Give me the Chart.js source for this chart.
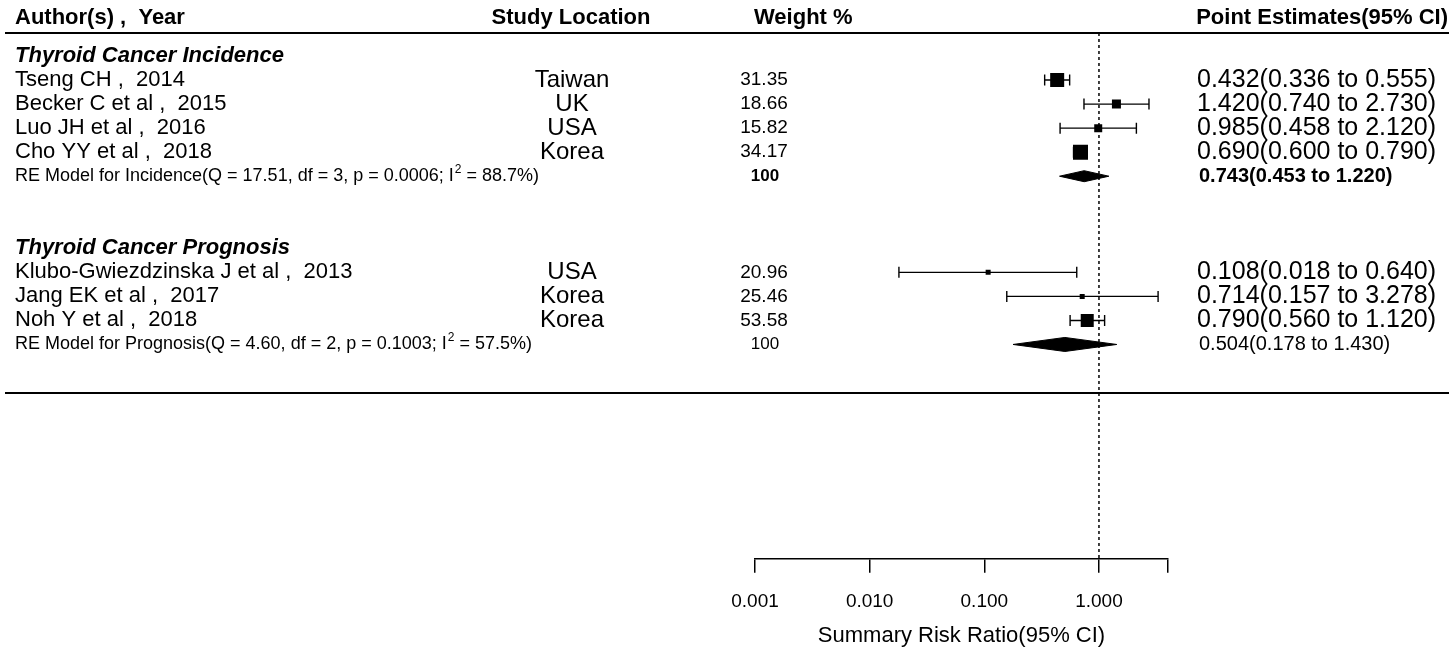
<!DOCTYPE html>
<html><head><meta charset="utf-8">
<script src="https://cdn.jsdelivr.net/npm/chart.js@4.4.1/dist/chart.umd.min.js"></script>
<style>html,body{margin:0;padding:0;background:#fff;}canvas{display:block;}</style>
</head><body>
<canvas id="c" width="1454" height="649"></canvas>
<script>
// ---------- data ----------
const groupTitles = ['Thyroid Cancer Incidence', 'Thyroid Cancer Prognosis'];
const authors = ['Tseng CH ,  2014', 'Becker C et al ,  2015', 'Luo JH et al ,  2016', 'Cho YY et al ,  2018',
                 'Klubo-Gwiezdzinska J et al ,  2013', 'Jang EK et al ,  2017', 'Noh Y et al ,  2018'];
const locations = ['Taiwan', 'UK', 'USA', 'Korea', 'USA', 'Korea', 'Korea'];
const weights = ['31.35', '18.66', '15.82', '34.17', '20.96', '25.46', '53.58'];
const studyGroup = [0, 0, 0, 0, 1, 1, 1];
const estimates = [0.432, 1.420, 0.985, 0.690, 0.108, 0.714, 0.790];
const lower = [0.336, 0.740, 0.458, 0.600, 0.018, 0.157, 0.560];
const upper = [0.555, 2.730, 2.120, 0.790, 0.640, 3.278, 1.120];
const summaryName = ['Incidence', 'Prognosis'];
const summaryQ = ['17.51', '4.60'];
const summaryDf = ['3', '2'];
const summaryP = ['0.0006', '0.1003'];
const summaryI2 = ['88.7', '57.5'];
const summaryWeight = ['100', '100'];
const summaryEst = [0.743, 0.504];
const summaryLo = [0.453, 0.178];
const summaryHi = [1.220, 1.430];
const tickValues = [0.001, 0.01, 0.1, 1];
const tickLabels = ['0.001', '0.010', '0.100', '1.000'];
const axisMax = 4;

// ---------- styles ----------
const FONT = '"Liberation Sans", Arial, sans-serif';
const boxSide = [14, 9, 8, 15, 5, 5, 13];      // marker sizes (px)
const diamondHalf = [5.5, 7];                    // px
const ROW_PX = 24;

// ---------- row layout (computed from group order) ----------
const studyRow = [], groupRow = [], summaryRow = [];
let r = 0;
for (let g = 0; g < groupTitles.length; g++) {
  groupRow.push(r); r++;
  for (let i = 0; i < authors.length; i++) if (studyGroup[i] === g) { studyRow[i] = r; r++; }
  summaryRow.push(r); r += 3;
}
const bottomRuleRow = r - 1;
const yMin = -0.958, yMax = 20.917;

// ---------- datasets ----------
const ds = [];
ds.push({ data: [{x: 1, y: yMin}, {x: 1, y: yMax}], showLine: true, borderColor: '#000',
          borderWidth: 1.5, borderDash: [3, 3], pointRadius: 0 });
for (let i = 0; i < authors.length; i++) {
  ds.push({ data: [{x: lower[i], y: studyRow[i]}, {x: upper[i], y: studyRow[i]}], showLine: true,
            borderColor: '#000', borderWidth: 1.4, pointStyle: 'line', rotation: 90,
            pointRadius: 5.5, pointBorderWidth: 1.4, pointBorderColor: '#000' });
}
ds.push({ data: estimates.map((v, i) => ({x: v, y: studyRow[i]})), pointStyle: 'rect',
          pointRadius: boxSide.map(s => s / Math.SQRT2), backgroundColor: '#000', borderWidth: 0 });
for (let s = 0; s < summaryEst.length; s++) {
  const h = diamondHalf[s] / ROW_PX, y = summaryRow[s];
  ds.push({ data: [{x: summaryLo[s], y}, {x: summaryEst[s], y: y - h}, {x: summaryHi[s], y},
                   {x: summaryEst[s], y: y + h}, {x: summaryLo[s], y}],
            showLine: true, fill: 'shape', backgroundColor: '#000', borderColor: '#000',
            borderWidth: 1, pointRadius: 0, tension: 0 });
}

// ---------- text plugin ----------
function txt(ctx, s, x, y, font, align) {
  ctx.font = font; ctx.textAlign = align || 'left'; ctx.textBaseline = 'middle';
  ctx.fillStyle = '#000'; ctx.fillText(s, x, y);
  return ctx.measureText(s).width;
}
const textPlugin = {
  id: 'forestText',
  afterDraw(chart) {
    const ctx = chart.ctx, ys = chart.scales.y;
    const py = v => ys.getPixelForValue(v);
    ctx.save();
    // header
    const hf = 'bold 22px ' + FONT;
    txt(ctx, 'Author(s) ,  Year', 15, 18, hf);
    txt(ctx, 'Study Location', 571, 18, hf, 'center');
    txt(ctx, 'Weight %', 754, 18, hf);
    txt(ctx, 'Point Estimates(95% CI)', 1448, 18, hf, 'right');
    // rules
    ctx.strokeStyle = '#000'; ctx.lineWidth = 2;
    ctx.beginPath(); ctx.moveTo(5, 33); ctx.lineTo(1449, 33); ctx.stroke();
    const by = Math.round(py(bottomRuleRow));
    ctx.beginPath(); ctx.moveTo(5, by); ctx.lineTo(1449, by); ctx.stroke();
    // groups
    for (let g = 0; g < groupTitles.length; g++)
      txt(ctx, groupTitles[g], 15, py(groupRow[g]), 'italic bold 22px ' + FONT);
    // studies
    for (let i = 0; i < authors.length; i++) {
      const y = py(studyRow[i]);
      txt(ctx, authors[i], 15, y, '22px ' + FONT);
      txt(ctx, locations[i], 572, y, '24px ' + FONT, 'center');
      txt(ctx, weights[i], 764, y, '19px ' + FONT, 'center');
      txt(ctx, estimates[i].toFixed(3) + '(' + lower[i].toFixed(3) + ' to ' + upper[i].toFixed(3) + ')',
          1197, y, '25px ' + FONT);
    }
    // summaries
    for (let s = 0; s < summaryEst.length; s++) {
      const y = py(summaryRow[s]);
      const sf = '18px ' + FONT;
      let x = 15;
      x += txt(ctx, 'RE Model for ' + summaryName[s] + '(Q = ' + summaryQ[s] + ', df = ' + summaryDf[s] +
               ', p = ' + summaryP[s] + '; I', x, y, sf);
      x += txt(ctx, '2', x + 1, y - 7, '12px ' + FONT) + 1;
      txt(ctx, ' = ' + summaryI2[s] + '%)', x, y, sf);
      txt(ctx, summaryWeight[s], 765, y, (s === 0 ? 'bold ' : '') + '17px ' + FONT, 'center');
      txt(ctx, summaryEst[s].toFixed(3) + '(' + summaryLo[s].toFixed(3) + ' to ' + summaryHi[s].toFixed(3) + ')',
          1199, y, (s === 0 ? 'bold ' : '') + '20px ' + FONT);
    }
    ctx.restore();
  }
};

new Chart(document.getElementById('c'), {
  type: 'scatter',
  data: { datasets: ds },
  options: {
    responsive: false, animation: false, devicePixelRatio: 1,
    layout: { padding: { left: 755, right: 286, top: 33, bottom: 0 } },
    plugins: { legend: { display: false }, tooltip: { enabled: false } },
    scales: {
      x: {
        type: 'logarithmic', min: tickValues[0], max: axisMax,
        afterBuildTicks: ax => { ax.ticks = tickValues.concat([axisMax]).map(v => ({ value: v })); },
        ticks: { autoSkip: false, maxRotation: 0, color: '#000', padding: 18,
                 font: { family: FONT, size: 19 },
                 callback: (v, i) => (i < tickLabels.length ? tickLabels[i] : '') },
        grid: { drawOnChartArea: false, drawTicks: true, tickLength: 14, color: '#000', lineWidth: 1.5 },
        border: { display: true, color: '#000', width: 1.5 },
        title: { display: true, text: 'Summary Risk Ratio(95% CI)', color: '#000',
                 font: { family: FONT, size: 22 }, padding: { top: -9, bottom: 0 } }
      },
      y: { type: 'linear', reverse: true, min: yMin, max: yMax, display: false }
    }
  },
  plugins: [textPlugin]
});
</script>
</body></html>
